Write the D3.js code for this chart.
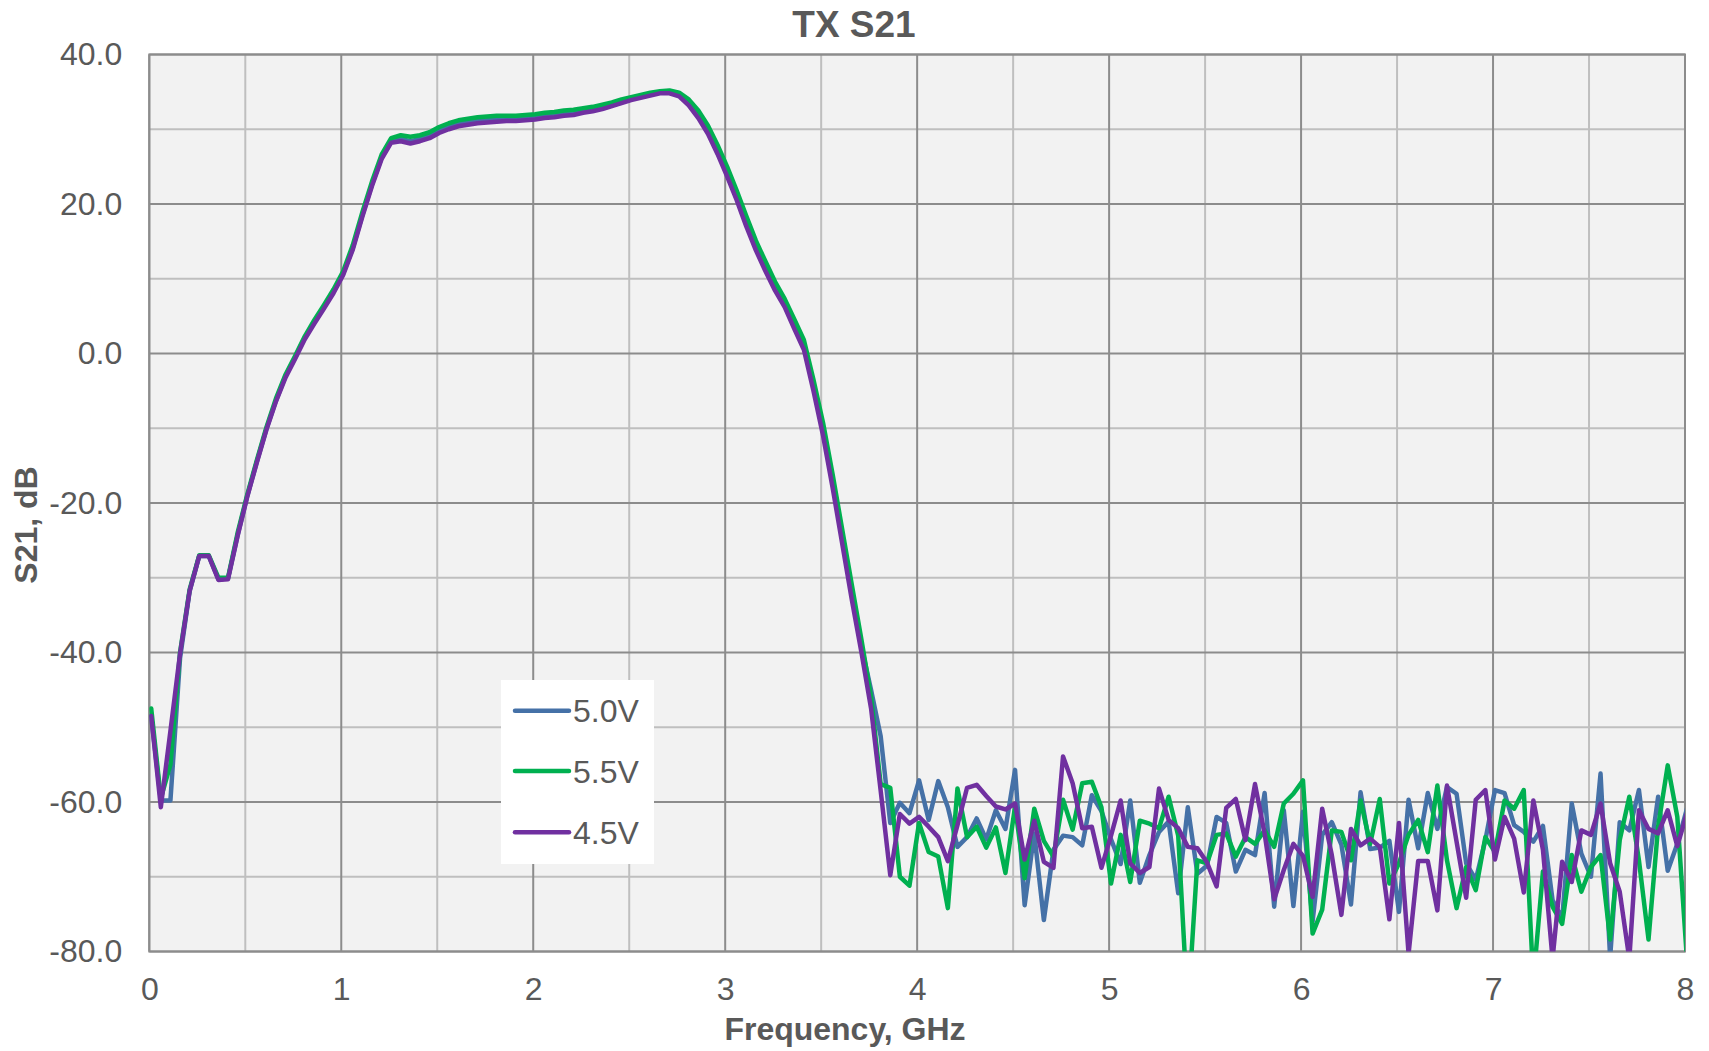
<!DOCTYPE html>
<html>
<head>
<meta charset="utf-8">
<title>TX S21</title>
<script src="https://cdn.jsdelivr.net/npm/d3@7"></script>
<style>
  html, body { margin: 0; padding: 0; background: #ffffff; }
  svg { display: block; font-family: "Liberation Sans", Arial, sans-serif; }
</style>
</head>
<body>
<svg id="chart" width="1709" height="1051"></svg>
<script>
// Sweep frequencies, GHz (161 points)
const freqGHz = [
  0.01,0.06,0.11,0.16,0.21,0.26,0.31,0.36,0.41,0.46,
  0.51,0.56,0.61,0.66,0.71,0.76,0.81,0.86,0.91,0.96,
  1.01,1.06,1.11,1.16,1.21,1.26,1.31,1.36,1.41,1.46,
  1.51,1.56,1.61,1.66,1.71,1.76,1.81,1.86,1.91,1.96,
  2.01,2.06,2.11,2.16,2.21,2.26,2.31,2.36,2.41,2.46,
  2.51,2.56,2.61,2.66,2.71,2.76,2.81,2.86,2.91,2.96,
  3.01,3.06,3.11,3.16,3.21,3.26,3.31,3.36,3.41,3.46,
  3.51,3.56,3.61,3.66,3.71,3.76,3.81,3.86,3.91,3.96,
  4.01,4.06,4.11,4.16,4.21,4.26,4.31,4.36,4.41,4.46,
  4.51,4.56,4.61,4.66,4.71,4.76,4.81,4.86,4.91,4.96,
  5.01,5.06,5.11,5.16,5.21,5.26,5.31,5.36,5.41,5.46,
  5.51,5.56,5.61,5.66,5.71,5.76,5.81,5.86,5.91,5.96,
  6.01,6.06,6.11,6.16,6.21,6.26,6.31,6.36,6.41,6.46,
  6.51,6.56,6.61,6.66,6.71,6.76,6.81,6.86,6.91,6.96,
  7.01,7.06,7.11,7.16,7.21,7.26,7.31,7.36,7.41,7.46,
  7.51,7.56,7.61,7.66,7.71,7.76,7.81,7.86,7.91,7.96,
  8.01
];

// S21 in dB at 5.0 V supply
const s21_5V0 = [
  -48.5,-59.8,-59.8,-40.8,-31.8,-27.1,-27.1,-30.2,-30.1,-24.3,
  -19.1,-14.5,-10.1,-6.3,-3.0,-0.5,2.1,4.2,6.2,8.3,
  10.7,14.1,18.5,22.6,26.2,28.4,28.7,28.4,28.7,29.1,
  29.8,30.3,30.7,30.9,31.1,31.2,31.3,31.4,31.4,31.5,
  31.6,31.8,31.9,32.1,32.2,32.5,32.7,33.0,33.4,33.8,
  34.1,34.4,34.7,35.0,35.0,34.6,33.5,31.9,29.9,27.2,
  24.3,21.1,17.6,14.4,11.6,9.0,6.7,3.9,1.1,-4.3,
  -10.2,-17.2,-24.6,-32.0,-39.2,-45.0,-51.2,-62.8,-60.1,-61.5,
  -57.1,-62.4,-57.2,-60.7,-66.0,-64.7,-62.2,-65.0,-61.1,-63.6,
  -55.7,-73.8,-64.2,-75.8,-66.4,-64.5,-64.7,-65.8,-59.1,-61.2,
  -65.0,-68.3,-59.8,-70.8,-67.1,-64.0,-62.6,-72.2,-60.7,-69.6,
  -68.5,-62.0,-62.8,-69.3,-66.4,-67.1,-58.8,-74.0,-61.1,-73.9,
  -61.3,-76.0,-64.4,-62.7,-65.7,-73.7,-58.7,-66.3,-66.1,-65.2,
  -74.7,-59.7,-66.2,-58.8,-63.6,-58.0,-58.9,-68.2,-70.4,-65.1,
  -58.4,-58.8,-63.1,-64.0,-65.3,-63.2,-73.1,-75.6,-60.2,-66.9,
  -70.0,-56.2,-80.8,-62.7,-63.8,-58.4,-68.7,-59.3,-69.2,-65.6,
  -60.9
];

// S21 in dB at 5.5 V supply
const s21_5V5 = [
  -47.5,-59.5,-55.0,-40.0,-31.6,-27.0,-27.0,-30.0,-30.0,-24.0,
  -18.9,-14.3,-9.9,-6.0,-2.8,-0.3,2.3,4.5,6.5,8.6,
  11.0,14.5,18.9,23.0,26.6,28.8,29.2,29.0,29.2,29.6,
  30.3,30.8,31.2,31.4,31.6,31.7,31.8,31.8,31.8,31.9,
  32.0,32.2,32.3,32.5,32.6,32.8,33.0,33.3,33.6,34.0,
  34.3,34.6,34.9,35.1,35.2,34.9,34.0,32.5,30.5,27.9,
  25.0,21.8,18.4,15.1,12.3,9.6,7.3,4.6,1.8,-3.5,
  -9.3,-16.2,-23.6,-31.0,-38.3,-46.0,-57.6,-58.1,-70.0,-71.2,
  -62.8,-66.7,-67.3,-74.2,-58.2,-64.7,-63.3,-66.1,-63.4,-69.5,
  -60.6,-70.2,-60.9,-65.2,-67.3,-59.7,-63.7,-57.5,-57.3,-60.7,
  -70.9,-64.4,-70.7,-62.5,-62.9,-63.5,-59.3,-64.5,-88.0,-67.8,
  -68.2,-64.4,-64.2,-67.3,-64.7,-65.6,-63.8,-66.0,-60.2,-58.9,
  -57.1,-77.6,-74.4,-63.8,-64.0,-67.8,-59.8,-65.6,-59.6,-70.9,
  -68.2,-64.4,-62.4,-66.7,-57.8,-67.8,-74.2,-68.7,-71.8,-64.7,
  -66.7,-59.8,-60.9,-58.4,-84.0,-69.3,-74.0,-76.3,-67.1,-72.0,
  -68.7,-67.1,-78.4,-65.1,-59.3,-67.8,-78.4,-63.3,-55.1,-62.0,
  -81.0
];

// S21 in dB at 4.5 V supply
const s21_4V5 = [
  -48.5,-60.7,-50.5,-40.2,-31.8,-27.1,-27.1,-30.3,-30.2,-24.4,
  -19.2,-14.6,-10.2,-6.4,-3.2,-0.7,1.9,4.0,6.0,8.1,
  10.5,13.9,18.3,22.4,26.0,28.2,28.4,28.1,28.4,28.8,
  29.5,30.0,30.4,30.6,30.8,30.9,31.0,31.1,31.1,31.2,
  31.3,31.5,31.6,31.8,31.9,32.2,32.4,32.7,33.1,33.5,
  33.9,34.2,34.5,34.8,34.8,34.4,33.2,31.5,29.4,26.7,
  23.7,20.5,17.0,13.8,11.0,8.4,6.2,3.3,0.5,-5.0,
  -11.0,-18.0,-25.5,-33.0,-40.0,-47.5,-58.5,-69.8,-61.6,-62.9,
  -62.0,-63.3,-64.7,-67.9,-63.1,-58.1,-57.7,-59.2,-60.6,-61.0,
  -60.2,-67.7,-62.5,-68.0,-68.8,-53.9,-57.5,-63.5,-63.3,-68.8,
  -64.5,-59.8,-68.2,-69.5,-68.7,-58.2,-62.4,-63.5,-66.0,-66.2,
  -68.1,-71.3,-60.8,-59.6,-65.1,-57.6,-64.2,-73.0,-69.1,-65.6,
  -67.2,-72.7,-60.9,-67.1,-75.1,-63.6,-65.8,-64.9,-66.0,-75.7,
  -62.8,-80.3,-67.9,-67.9,-74.5,-57.8,-65.3,-72.8,-59.7,-58.4,
  -67.7,-62.0,-64.9,-72.1,-59.8,-66.4,-81.0,-68.0,-70.7,-63.8,
  -64.4,-60.2,-68.2,-72.0,-81.0,-61.1,-63.6,-64.2,-61.1,-65.9,
  -61.5
];

const seriesNames = ["5.0V", "5.5V", "4.5V"];
const seriesColors = ["#4571a7", "#00b050", "#7030a0"];

const xTicks = [0, 1, 2, 3, 4, 5, 6, 7, 8];
const xMinorGrid = [0.5, 1.5, 2.5, 3.5, 4.5, 5.5, 6.5, 7.5];
const yTicks = [40, 20, 0, -20, -40, -60, -80];
const yMinorGrid = [30, 10, -10, -30, -50, -70];

const chartTitle = "TX S21";
const xTitle = "Frequency, GHz";
const yTitle = "S21, dB";

// ---- layout ----
const plot = { left: 149.3, right: 1685, top: 54.5, bottom: 951.5 };
const textColor = "#595959";
const majorGrid = "#8c8c8c";
const minorGrid = "#bfbfbf";
const tickFont = 32;

const svg = d3.select("#chart");

const x = d3.scaleLinear().domain([0, 8]).range([plot.left, plot.right]);
const y = d3.scaleLinear().domain([-80, 40]).range([plot.bottom, plot.top]);

// plot background
svg.append("rect")
  .attr("x", plot.left).attr("y", plot.top)
  .attr("width", plot.right - plot.left).attr("height", plot.bottom - plot.top)
  .attr("fill", "#f2f2f2");

// gridlines
const grid = svg.append("g").attr("class", "grid");
grid.selectAll("line.vmin").data(xMinorGrid).join("line")
  .attr("x1", d => x(d)).attr("x2", d => x(d))
  .attr("y1", plot.top).attr("y2", plot.bottom)
  .attr("stroke", minorGrid).attr("stroke-width", 2);
grid.selectAll("line.hmin").data(yMinorGrid).join("line")
  .attr("x1", plot.left).attr("x2", plot.right)
  .attr("y1", d => y(d)).attr("y2", d => y(d))
  .attr("stroke", minorGrid).attr("stroke-width", 2);
grid.selectAll("line.vmaj").data(xTicks).join("line")
  .attr("x1", d => x(d)).attr("x2", d => x(d))
  .attr("y1", plot.top).attr("y2", plot.bottom)
  .attr("stroke", majorGrid).attr("stroke-width", 2);
grid.selectAll("line.hmaj").data(yTicks).join("line")
  .attr("x1", plot.left).attr("x2", plot.right)
  .attr("y1", d => y(d)).attr("y2", d => y(d))
  .attr("stroke", majorGrid).attr("stroke-width", 2);

// plot frame
svg.append("rect")
  .attr("x", plot.left).attr("y", plot.top)
  .attr("width", plot.right - plot.left).attr("height", plot.bottom - plot.top)
  .attr("fill", "none").attr("stroke", majorGrid).attr("stroke-width", 2);

// clip traces to the plot area
svg.append("defs").append("clipPath").attr("id", "plot-clip")
  .append("rect")
  .attr("x", plot.left).attr("y", plot.top)
  .attr("width", plot.right - plot.left).attr("height", plot.bottom - plot.top);

const series = [s21_5V0, s21_5V5, s21_4V5].map((vals, k) => ({
  name: seriesNames[k],
  color: seriesColors[k],
  points: freqGHz.map((f, i) => [f, vals[i]])
}));

const line = d3.line().x(d => x(d[0])).y(d => y(d[1]));

svg.append("g").attr("clip-path", "url(#plot-clip)")
  .selectAll("path").data(series).join("path")
  .attr("d", d => line(d.points))
  .attr("fill", "none")
  .attr("stroke", d => d.color)
  .attr("stroke-width", 4.5)
  .attr("stroke-linejoin", "round")
  .attr("stroke-linecap", "round");

// axes (labels only)
const xAxis = d3.axisBottom(x).tickValues(xTicks).tickSize(0).tickPadding(26)
  .tickFormat(d => String(d));
const gx = svg.append("g").attr("transform", `translate(0,${plot.bottom})`).call(xAxis);
gx.select(".domain").remove();
gx.selectAll("text").attr("font-size", tickFont).attr("fill", textColor)
  .attr("font-family", "'Liberation Sans', Arial, sans-serif");

const yAxis = d3.axisLeft(y).tickValues(yTicks).tickSize(0).tickPadding(27)
  .tickFormat(d => d.toFixed(1));
const gy = svg.append("g").attr("transform", `translate(${plot.left},0)`).call(yAxis);
gy.select(".domain").remove();
gy.selectAll("text").attr("font-size", tickFont).attr("fill", textColor)
  .attr("font-family", "'Liberation Sans', Arial, sans-serif");

// titles
svg.append("text")
  .attr("x", 854).attr("y", 37)
  .attr("text-anchor", "middle")
  .attr("font-size", 37).attr("font-weight", "bold").attr("fill", textColor)
  .text(chartTitle);

svg.append("text")
  .attr("x", 845).attr("y", 1040)
  .attr("text-anchor", "middle")
  .attr("font-size", 32).attr("font-weight", "bold").attr("fill", textColor)
  .text(xTitle);

svg.append("text")
  .attr("transform", "translate(37,525) rotate(-90)")
  .attr("text-anchor", "middle")
  .attr("font-size", 32).attr("font-weight", "bold").attr("fill", textColor)
  .text(yTitle);

// legend
const legend = svg.append("g").attr("class", "legend");
legend.append("rect")
  .attr("x", 501).attr("y", 680).attr("width", 153).attr("height", 184)
  .attr("fill", "#ffffff");
const legendRows = [710.7, 771, 832.3];
const items = legend.selectAll("g.item").data(series).join("g")
  .attr("class", "item")
  .attr("transform", (d, i) => `translate(0,${legendRows[i]})`);
items.append("line")
  .attr("x1", 515).attr("x2", 569).attr("y1", 0).attr("y2", 0)
  .attr("stroke", d => d.color).attr("stroke-width", 4.5)
  .attr("stroke-linecap", "round");
items.append("text")
  .attr("x", 573).attr("y", 0).attr("dy", "0.36em")
  .attr("font-size", 32).attr("fill", textColor)
  .text(d => d.name);
</script>
</body>
</html>
